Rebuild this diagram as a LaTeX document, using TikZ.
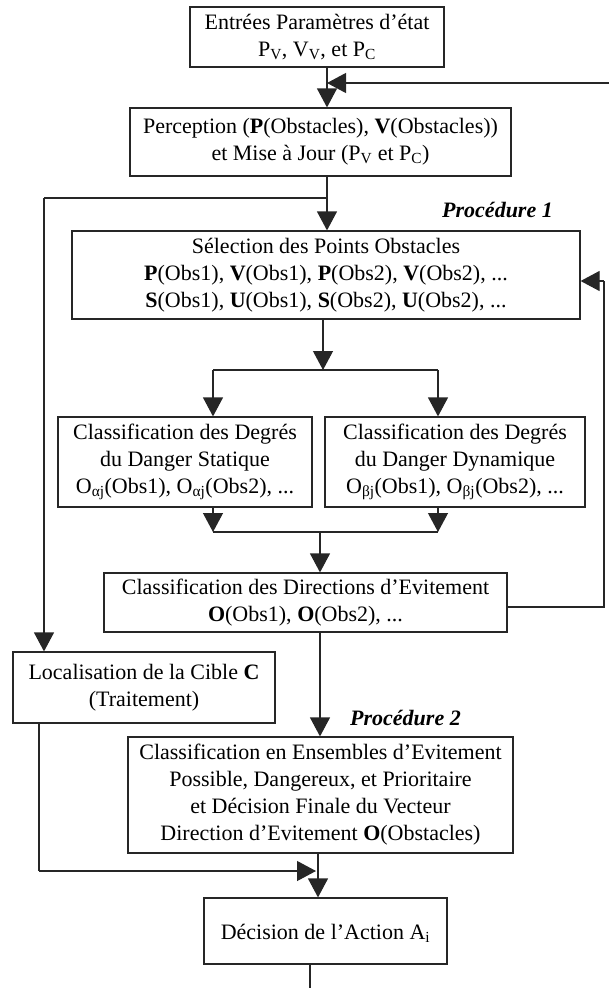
\documentclass[tikz,border=0pt]{standalone}
\usepackage{fontspec}
\setmainfont{Liberation Serif}
\usetikzlibrary{arrows.meta,calc}
\begin{document}
\begin{tikzpicture}[x=1pt,y=-1pt,
  box/.style={draw=black!85, line width=1.2pt, align=center, inner sep=0pt,
              font=\fontsize{22}{27}\selectfont},
  conn/.style={draw=black!85, line width=1.2pt},
  arr/.style={conn, -{Triangle[width=20pt,length=19pt]}},
  proc/.style={font=\fontsize{22}{27}\selectfont\bfseries\itshape, inner sep=0pt}]
\useasboundingbox (0,0) rectangle (609,988);

% boxes
\node[box, minimum width=254pt, minimum height=60pt] (A) at (317,37)
  {Entrées Paramètres d’état\\P\textsubscript{V}, V\textsubscript{V}, et P\textsubscript{C}};
\node[box, minimum width=381pt, minimum height=68pt] (P) at (320.5,142)
  {Perception (\textbf{P}(Obstacles), \textbf{V}(Obstacles))\\et Mise à Jour (P\textsubscript{V} et P\textsubscript{C})};
\node[box, minimum width=508pt, minimum height=88pt] (S) at (326,275)
  {Sélection des Points Obstacles\\
   \textbf{P}(Obs1), \textbf{V}(Obs1), \textbf{P}(Obs2), \textbf{V}(Obs2), ...\\
   \textbf{S}(Obs1), \textbf{U}(Obs1), \textbf{S}(Obs2), \textbf{U}(Obs2), ...};
\node[box, minimum width=254pt, minimum height=90pt] (ST) at (185,462)
  {Classification des Degrés\\du Danger Statique\\
   O\textsubscript{αj}(Obs1), O\textsubscript{αj}(Obs2), ...};
\node[box, minimum width=260pt, minimum height=90pt] (DY) at (455,462)
  {Classification des Degrés\\du Danger Dynamique\\
   O\textsubscript{βj}(Obs1), O\textsubscript{βj}(Obs2), ...};
\node[box, minimum width=403pt, minimum height=59pt] (DI) at (305.5,602.5)
  {Classification des Directions d’Evitement\\\textbf{O}(Obs1), \textbf{O}(Obs2), ...};
\node[box, minimum width=262pt, minimum height=71pt] (LO) at (144,687.5)
  {Localisation de la Cible \textbf{C}\\(Traitement)};
\node[box, minimum width=385pt, minimum height=116pt] (EN) at (320.5,795)
  {Classification en Ensembles d’Evitement\\Possible, Dangereux, et Prioritaire\\
   et Décision Finale du Vecteur\\Direction d’Evitement \textbf{O}(Obstacles)};
\node[box, minimum width=243pt, minimum height=66pt, text depth=2pt, text height=19pt] (DE) at (325.5,931)
  {Décision de l’Action A\textsubscript{i}};

% labels
\node[proc, anchor=base east] (p1) at (553,217) {Procédure 1};
\node[proc, anchor=base west] (p2) at (350,725) {Procédure 2};

% helper coordinates
\coordinate (fbT) at (327,83);
\coordinate (fbR) at (609,83);
\coordinate (j1) at (327,198);
\coordinate (j1L) at (44,198);
\coordinate (j2) at (323,370);
\coordinate (j2L) at (213,370);
\coordinate (j2R) at (438,370);
\coordinate (j3) at (320,532);
\coordinate (j3L) at (213,532);
\coordinate (j3R) at (438,532);
\coordinate (rl1) at (604,607);
\coordinate (rl2) at (604,281);
\coordinate (lb1) at (39,871);
\coordinate (lb2) at (316,871);
\coordinate (x318) at (318,880);
\coordinate (bot) at (310,988);

% connectors
\draw[arr] (A.south -| fbT) -- (P.north -| fbT);
\draw[arr] (fbR) -- (fbT);
\draw[arr] (P.south -| j1) -- (S.north -| j1);
\draw[conn] (j1) -- (j1L);
\draw[arr] (j1L) -- (LO.north -| j1L);
\draw[arr] (S.south -| j2) -- (j2);
\draw[conn] (j2L) -- (j2R);
\draw[arr] (j2L) -- (ST.north -| j2L);
\draw[arr] (j2R) -- (DY.north -| j2R);
\draw[arr] (ST.south -| j3L) -- (j3L);
\draw[arr] (DY.south -| j3R) -- (j3R);
\draw[conn] (j3L) -- (j3R);
\draw[arr] (j3) -- (DI.north -| j3);
\draw[conn] (DI.east |- rl1) -- (rl1) -- (rl2);
\draw[arr] (rl2) -- (S.east |- rl2);
\draw[arr] (DI.south -| j3) -- (EN.north -| j3);
\draw[conn] (LO.south -| lb1) -- (lb1);
\draw[arr] (lb1) -- (lb2);
\draw[arr] (EN.south -| x318) -- (DE.north -| x318);
\draw[conn] (DE.south -| bot) -- (bot);
\end{tikzpicture}
\end{document}
